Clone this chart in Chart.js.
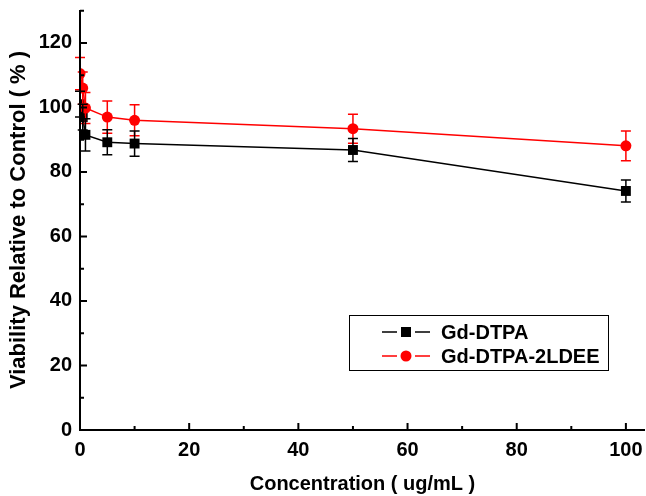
<!DOCTYPE html>
<html>
<head>
<meta charset="utf-8">
<script src="https://cdn.jsdelivr.net/npm/chart.js@4"></script>
<style>
  html, body { margin: 0; padding: 0; background: #fff; }
  #wrap { width: 646px; height: 496px; }
</style>
</head>
<body>
<div id="wrap"><canvas id="chart" width="646" height="496"></canvas></div>
<script>
// concentrations (ug/mL)
const concentrations = [0, 0.5, 1, 5, 10, 50, 100];

// Gd-DTPA viability and error
const dtpaValues = [101, 97, 91.5, 89.2, 88.8, 86.8, 74.1];
const dtpaErrors = [4, 4, 5, 3.9, 3.9, 3.6, 3.4];

// Gd-DTPA-2LDEE viability and error
const ldeeValues = [110.5, 106, 99.8, 97, 96, 93.4, 88.1];
const ldeeErrors = [5, 5, 4.8, 5, 4.8, 4.5, 4.6];

const seriesNames = ["Gd-DTPA", "Gd-DTPA-2LDEE"];
const xTicks = [0, 20, 40, 60, 80, 100];
const yTicks = [0, 20, 40, 60, 80, 100, 120];

const FONT = "Liberation Sans, Arial, sans-serif";

function toPoints(xs, ys, es) {
    return xs.map((x, i) => ({ x: x, y: ys[i], err: es[i] }));
}

// error bars, inward ticks, legend box
const extras = {
    id: "extras",
    afterDatasetsDraw(chart) {
        const ctx = chart.ctx;
        const xs = chart.scales.x, ys = chart.scales.y;
        chart.data.datasets.forEach(ds => {
            ctx.save();
            ctx.strokeStyle = ds.borderColor;
            ctx.lineWidth = 1.5;
            ds.data.forEach(p => {
                const px = xs.getPixelForValue(p.x);
                const top = ys.getPixelForValue(p.y + p.err);
                const bot = ys.getPixelForValue(p.y - p.err);
                ctx.beginPath();
                ctx.moveTo(px, top); ctx.lineTo(px, bot);
                ctx.moveTo(px - 5, top); ctx.lineTo(px + 5, top);
                ctx.moveTo(px - 5, bot); ctx.lineTo(px + 5, bot);
                ctx.stroke();
            });
            ctx.restore();
        });
    },
    afterDraw(chart) {
        const ctx = chart.ctx;
        const xs = chart.scales.x, ys = chart.scales.y;
        const area = chart.chartArea;
        ctx.save();
        ctx.strokeStyle = "#000";
        ctx.lineWidth = 2;
        // axes
        ctx.beginPath();
        ctx.moveTo(area.left, area.top);
        ctx.lineTo(area.left, area.bottom);
        ctx.lineTo(area.right, area.bottom);
        ctx.stroke();
        // ticks (inward)
        ctx.beginPath();
        for (let v = 0; v <= 130; v += 10) {
            const py = ys.getPixelForValue(v);
            const len = v % 20 === 0 ? 7 : 4;
            ctx.moveTo(area.left, py); ctx.lineTo(area.left + len, py);
        }
        for (let v = 0; v <= 100; v += 10) {
            const px = xs.getPixelForValue(v);
            const len = v % 20 === 0 ? 7 : 4;
            ctx.moveTo(px, area.bottom); ctx.lineTo(px, area.bottom - len);
        }
        ctx.stroke();

        // legend, in series order
        const lx = 349, ly = 315, lw = 259, lh = 55;
        ctx.lineWidth = 1;
        ctx.strokeRect(lx + 0.5, ly + 0.5, lw, lh);
        ctx.font = "bold 20px " + FONT;
        ctx.textBaseline = "middle";
        seriesNames.forEach((name, i) => {
            const ds = chart.data.datasets.find(d => d.label === name);
            const cy = ly + 17 + i * 24;
            ctx.strokeStyle = ds.borderColor;
            ctx.fillStyle = ds.borderColor;
            ctx.lineWidth = 1.5;
            ctx.beginPath();
            ctx.moveTo(382, cy); ctx.lineTo(397, cy);
            ctx.moveTo(415, cy); ctx.lineTo(430, cy);
            ctx.stroke();
            if (ds.pointStyle === "rect") {
                ctx.fillRect(401, cy - 5, 10, 10);
            } else {
                ctx.beginPath();
                ctx.arc(406, cy, 5.5, 0, Math.PI * 2);
                ctx.fill();
            }
            ctx.fillStyle = "#000";
            ctx.fillText(name, 441, cy + 1);
        });
        ctx.restore();
    }
};

const ctx = document.getElementById("chart").getContext("2d");

new Chart(ctx, {
    type: "line",
    data: {
        datasets: [
            {
                label: seriesNames[1],
                data: toPoints(concentrations, ldeeValues, ldeeErrors),
                borderColor: "#ff0000",
                backgroundColor: "#ff0000",
                borderWidth: 1.5,
                pointStyle: "circle",
                pointRadius: 5.5,
                pointBorderWidth: 0,
                fill: false
            },
            {
                label: seriesNames[0],
                data: toPoints(concentrations, dtpaValues, dtpaErrors),
                borderColor: "#000000",
                backgroundColor: "#000000",
                borderWidth: 1.5,
                pointStyle: "rect",
                pointRadius: 7,
                pointBorderWidth: 0,
                fill: false
            }
        ]
    },
    options: {
        responsive: false,
        animation: false,
        layout: { autoPadding: false, padding: { top: 10, right: 1, left: 0, bottom: 0 } },
        plugins: {
            legend: { display: false },
            tooltip: { enabled: false }
        },
        scales: {
            x: {
                type: "linear",
                min: 0,
                max: 103.5,
                grid: { display: false },
                border: { display: false },
                afterBuildTicks: s => { s.ticks = xTicks.map(v => ({ value: v })); },
                ticks: {
                    color: "#000",
                    padding: 0,
                    maxRotation: 0,
                    font: { family: FONT, size: 20, weight: "bold" }
                },
                title: {
                    display: true,
                    text: "Concentration ( ug/mL )",
                    color: "#000",
                    padding: { top: 14, bottom: 0 },
                    font: { family: FONT, size: 20, weight: "bold" }
                },
                afterFit: s => { s.height = 66; s.paddingLeft = 0; s.paddingRight = 0; }
            },
            y: {
                min: 0,
                max: 130.2,
                grid: { display: false },
                border: { display: false },
                afterBuildTicks: s => { s.ticks = yTicks.map(v => ({ value: v })); },
                ticks: {
                    color: "#000",
                    padding: 0,
                    font: { family: FONT, size: 20, weight: "bold" }
                },
                title: {
                    display: true,
                    text: "Viability Relative to Control ( % )",
                    color: "#000",
                    padding: { top: 6, bottom: 0 },
                    font: { family: FONT, size: 22, weight: "bold" }
                },
                afterFit: s => { s.width = 80; s.paddingTop = 0; s.paddingBottom = 0; }
            }
        }
    },
    plugins: [extras]
});
</script>
</body>
</html>
